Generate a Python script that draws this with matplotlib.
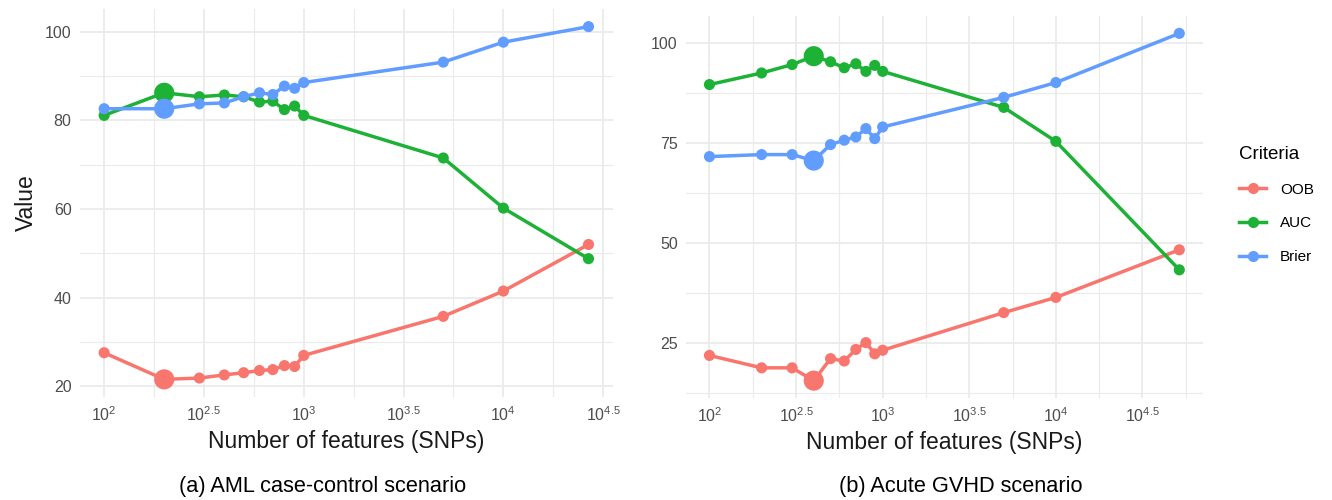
import matplotlib
matplotlib.use('Agg')
import matplotlib.pyplot as plt
import numpy as np
from matplotlib.ticker import FixedLocator, NullFormatter
from matplotlib.lines import Line2D

# Данные
n_aml = [100, 200, 300, 400, 500, 600, 700, 800, 900, 1000, 5000, 10000, 26700]
oob_aml = [27.6, 21.6, 21.9, 22.6, 23.1, 23.6, 23.8, 24.7, 24.5, 27.0, 35.8, 41.5, 52.0]
auc_aml = [81.1, 86.2, 85.3, 85.7, 85.3, 84.1, 84.3, 82.4, 83.2, 81.1, 71.5, 60.2, 48.8]
brier_aml = [82.6, 82.6, 83.7, 83.9, 85.3, 86.2, 85.8, 87.7, 87.2, 88.5, 93.1, 97.6, 101.1]
best_aml = 200

n_gvhd = [100, 200, 300, 400, 500, 600, 700, 800, 900, 1000, 5000, 10000, 51600]
oob_gvhd = [21.8, 18.7, 18.7, 15.5, 21.0, 20.4, 23.3, 25.0, 22.2, 23.1, 32.5, 36.3, 48.2]
auc_gvhd = [89.5, 92.4, 94.5, 96.6, 95.2, 93.7, 94.7, 92.8, 94.3, 92.8, 83.8, 75.3, 43.2]
brier_gvhd = [71.5, 72.0, 72.0, 70.5, 74.5, 75.6, 76.4, 78.5, 76.0, 78.9, 86.3, 90.0, 102.3]
best_gvhd = 400

criteria = ['OOB', 'AUC', 'Brier']
colors = ['#F8766D', '#1DB136', '#619CFF']
x_exp = [2, 2.5, 3, 3.5, 4, 4.5]

plt.rcParams['font.family'] = ['Liberation Sans', 'DejaVu Sans']
plt.rcParams['mathtext.fontset'] = 'custom'
plt.rcParams['mathtext.rm'] = 'Liberation Sans'
plt.rcParams['mathtext.it'] = 'Liberation Sans:italic'
plt.rcParams['mathtext.default'] = 'regular'

fig = plt.figure(figsize=(13.32, 5), dpi=100)
ax1 = fig.add_axes([0.060, 0.206, 0.400, 0.776])
ax2 = fig.add_axes([0.515, 0.204, 0.388, 0.764])


def draw(ax, n, series, best, y_major, y_minor):
    for i, (y, col) in enumerate(zip(series, colors)):
        ax.plot(n, y, color=col, lw=2.5, zorder=3 + 2 * i, solid_capstyle='round')
        sizes = [210 if v == best else 64 for v in n]
        ax.scatter(n, y, s=sizes, color=col, linewidths=0, zorder=4 + 2 * i)
    ax.set_xscale('log')
    ax.margins(x=0.05, y=0.05)
    # сетка как в ggplot theme_minimal
    ax.xaxis.set_major_locator(FixedLocator([10 ** e for e in x_exp]))
    ax.set_xticklabels(['$10^{%g}$' % e for e in x_exp])
    ax.xaxis.set_minor_locator(FixedLocator([10 ** e for e in np.arange(1.75, 5.0, 0.5)]))
    ax.xaxis.set_minor_formatter(NullFormatter())
    ax.yaxis.set_major_locator(FixedLocator(y_major))
    ax.yaxis.set_minor_locator(FixedLocator(y_minor))
    ax.yaxis.set_minor_formatter(NullFormatter())
    ax.grid(True, which='major', color='#EBEBEB', lw=1.3)
    ax.grid(True, which='minor', color='#EBEBEB', lw=0.8)
    ax.set_axisbelow(True)
    for s in ax.spines.values():
        s.set_visible(False)
    ax.tick_params(which='both', length=0, labelsize=11.5, labelcolor='#4D4D4D', pad=6)
    ax.set_xlabel('Number of features (SNPs)', fontsize=16.5, color='#1A1A1A', labelpad=4)


draw(ax1, n_aml, [oob_aml, auc_aml, brier_aml], best_aml,
     [20, 40, 60, 80, 100], [10, 30, 50, 70, 90, 110])
draw(ax2, n_gvhd, [oob_gvhd, auc_gvhd, brier_gvhd], best_gvhd,
     [25, 50, 75, 100], [12.5, 37.5, 62.5, 87.5, 112.5])
ax1.set_ylabel('Value', fontsize=16.5, color='#1A1A1A', labelpad=5)

#Легенда
handles = [Line2D([], [], color=c, lw=2.5, marker='o', markersize=7) for c in colors]
fig.legend(handles, criteria, title='Criteria', loc='upper left',
           bbox_to_anchor=(1225 / 1332, 1 - 132 / 500), frameon=False,
           fontsize=11, title_fontsize=13.5, handlelength=1.8, handletextpad=0.9,
           labelspacing=1.3, alignment='left')

fig.text(0.242, 0.027, '(a) AML case-control scenario', ha='center', va='center', fontsize=15.7)
fig.text(0.721, 0.027, '(b) Acute GVHD scenario', ha='center', va='center', fontsize=15.7)

fig.savefig('out.png', dpi=100)
